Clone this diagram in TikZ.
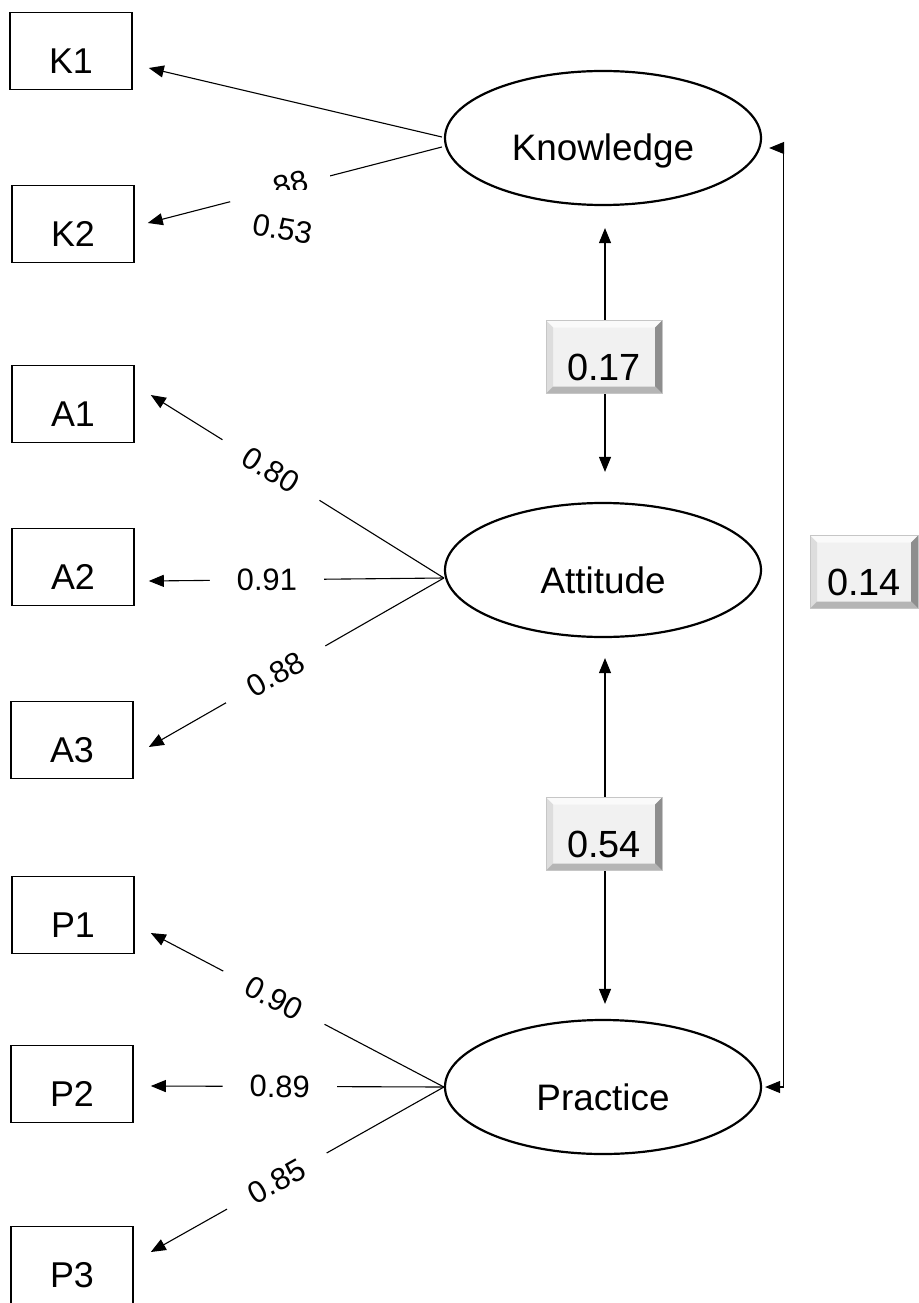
\documentclass[tikz,border=0pt]{standalone}
\usepackage{fontspec}
\setmainfont{Liberation Sans}
\usetikzlibrary{shapes.geometric, arrows.meta, positioning, calc}
\definecolor{coefface}{HTML}{F1F1F1}
\definecolor{coeftop}{HTML}{FAFAFA}
\definecolor{coefleft}{HTML}{DDDDDD}
\definecolor{coefright}{HTML}{8E8E8E}
\definecolor{coefbottom}{HTML}{B5B5B5}
\tikzset{
  observed/.style={
    rectangle, draw, line width=1.6bp, minimum width=122bp, minimum height=77bp,
    font=\fontsize{36}{42}\selectfont, text height=45bp, text depth=0bp
  },
  latent/.style={
    ellipse, draw, line width=2.2bp, minimum width=316bp, minimum height=134bp,
    font=\fontsize{37}{42}\selectfont, text height=46bp, text depth=0bp
  },
  coef/.style={
    rectangle, fill=coefface, draw=gray!45, line width=0.6bp,
    minimum width=#1, minimum height=73bp,
    font=\fontsize{38}{44}\selectfont, text height=47bp, text depth=0bp,
    path picture={
      \coordinate (bnw) at (path picture bounding box.north west);
      \coordinate (bne) at (path picture bounding box.north east);
      \coordinate (bsw) at (path picture bounding box.south west);
      \coordinate (bse) at (path picture bounding box.south east);
      \fill[coeftop] (bnw) -- (bne) -- ([shift={(-7bp,-7bp)}]bne) -- ([shift={(7bp,-7bp)}]bnw) -- cycle;
      \fill[coefleft] (bnw) -- (bsw) -- ([shift={(7bp,7bp)}]bsw) -- ([shift={(7bp,-7bp)}]bnw) -- cycle;
      \fill[coefright] (bne) -- (bse) -- ([shift={(-7bp,7bp)}]bse) -- ([shift={(-7bp,-7bp)}]bne) -- cycle;
      \fill[coefbottom] (bsw) -- (bse) -- ([shift={(-7bp,7bp)}]bse) -- ([shift={(7bp,7bp)}]bsw) -- cycle;
    }
  },
  coef/.default=116bp
}

\begin{document}
\begin{tikzpicture}[
  x=1bp, y=-1bp,
  load/.style={-{Triangle[length=15bp,width=12bp]}, line width=1.1bp},
  corr/.style={{Triangle[length=15bp,width=12bp]}-{Triangle[length=15bp,width=12bp]}, line width=1.1bp},
  loadval/.style={font=\fontsize{31}{34}\selectfont, fill=white, inner xsep=27bp, inner ysep=1bp, sloped},
]
  \useasboundingbox (0,0) rectangle (918,1303);

  % Latent factors
  \node[latent] (Know) at (603,138) {Knowledge};
  \node[latent] (Att) at (603,570) {Attitude};
  \node[latent] (Prac) at (603,1087) {Practice};

  % Indicators
  \node[observed] (K1) at (71,51) {K1};
  \node[observed] (K2) at (73,224) {K2};
  \node[observed] (A1) at (73,404) {A1};
  \node[observed] (A2) at (73,567) {A2};
  \node[observed] (A3) at (72,740) {A3};
  \node[observed] (P1) at (73,915) {P1};
  \node[observed] (P2) at (72,1084) {P2};
  \node[observed] (P3) at (72,1265) {P3};

  % Knowledge loadings
  \coordinate (Kw1) at ($(Know.west)+(-2,-1)$);
  \coordinate (Kw2) at ($(Know.west)+(-2,9)$);
  \coordinate (K2tip) at ($(K2.east)+(13,-1)$);
  \draw[load] (Kw1) -- ($(K1.east)+(16,17)$);
  \draw[line width=1.1bp] (Kw2) -- ($(Kw2)!0.38!(K2tip)$);
  \draw[load] ($(Kw2)!0.72!(K2tip)$) -- (K2tip);
  \begin{scope}
    \clip (262,160) rectangle (318,190);
    \node[font=\fontsize{31}{34}\selectfont, rotate=14] (k2cut) at (291,184) {88};
  \end{scope}
  \node[font=\fontsize{31}{34}\selectfont, rotate=-10] (k2val) at (283,229) {0.53};

  % Attitude loadings
  \coordinate (Aw) at ($(Att.west)+(0,8)$);
  \draw[load] (Aw) -- node[loadval, pos=0.59]{0.80} ($(A1.east)+(16,-9)$);
  \draw[load] (Aw) -- node[loadval, pos=0.6]{0.91} ($(A2.east)+(14,14)$);
  \draw[load] (Aw) -- node[loadval, pos=0.57]{0.88} ($(A3.east)+(15,7)$);

  % Practice loadings
  \coordinate (Pw) at (Prac.west);
  \draw[load] (Pw) -- node[loadval, pos=0.58]{0.90} ($(P1.east)+(16,18)$);
  \draw[load] (Pw) -- node[loadval, pos=0.56]{0.89} ($(P2.east)+(17,2)$);
  \draw[load] (Pw) -- node[loadval, pos=0.57]{0.85} ($(P3.east)+(17,-13)$);

  % Factor correlations
  \draw[corr, shorten <=22bp, shorten >=30bp] ([xshift=2bp]Know.south) -- ([xshift=2bp]Att.north);
  \draw[corr, shorten <=20bp, shorten >=15bp] ([xshift=2bp]Att.south) -- ([xshift=2bp]Prac.north);
  \draw[corr] ($(Know.east)+(7,10)$) -- ++(14,0) |- ($(Prac.east)+(3,0)$);

  \node[coef] (rKA) at (604,357) {0.17};
  \node[coef] (rAP) at (604,834) {0.54};
  \node[coef=108bp] (rKP) at (864,572) {0.14};

\end{tikzpicture}
\end{document}
